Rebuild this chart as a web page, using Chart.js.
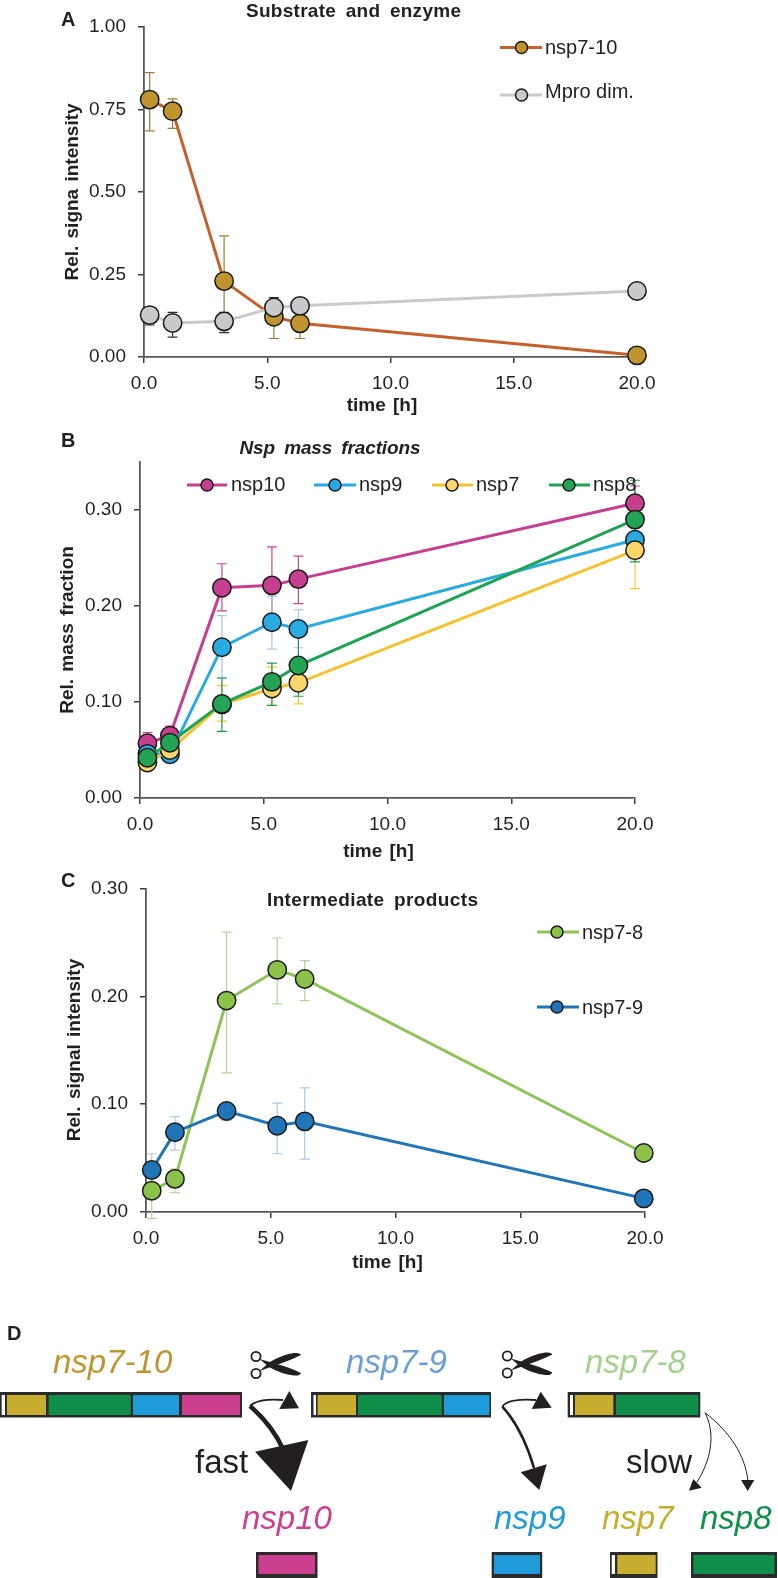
<!DOCTYPE html>
<html>
<head>
<meta charset="utf-8">
<title>nsp processing</title>
<script src="https://cdn.jsdelivr.net/npm/chart.js@4"></script>
<style>
  html, body { margin: 0; padding: 0; background: #fff; }
  #page { position: relative; width: 778px; height: 1578px; overflow: hidden; }
  canvas { position: absolute; left: 0; }
  #overlay { position: absolute; left: 0; top: 0; pointer-events: none; font-family: "Liberation Sans", Arial, sans-serif; fill: #231f20; }
  .tick-like { font-size: 20px; }
  .letter { font-size: 20px; font-weight: bold; }
  .title { font-size: 19px; font-weight: bold; text-anchor: middle; word-spacing: 4px; }
  .axis { font-size: 19px; font-weight: bold; text-anchor: middle; word-spacing: 2px; }
  .big { font-size: 33px; font-style: italic; }
  .word { font-size: 33px; }
</style>
</head>
<body>
<div id="page">
  <canvas id="chartA" width="778" height="420" style="top:0"></canvas>
  <canvas id="chartB" width="778" height="445" style="top:420px"></canvas>
  <canvas id="chartC" width="778" height="420" style="top:865px"></canvas>

  <svg id="overlay" width="778" height="1578" xmlns="http://www.w3.org/2000/svg">
    <defs>
      <g id="scissors">
        <circle cx="256" cy="1356.5" r="4.6" fill="none" stroke="#231f20" stroke-width="1.8"/>
        <circle cx="256" cy="1373.5" r="4.6" fill="none" stroke="#231f20" stroke-width="1.8"/>
        <path d="M259.5,1359 L275,1363.5 Q290,1367.5 301,1373 Q300,1376 294,1375.5 Q281,1374 269,1367 Z" fill="#231f20"/>
        <path d="M259.5,1371 L275,1365.5 Q290,1360.5 301,1355 Q300,1352.5 294,1353 Q281,1355 269,1362.5 Z" fill="#231f20"/>
      </g>
    </defs>

    <!-- panel letters and titles -->
    <text class="letter" x="61" y="26">A</text>
    <text class="letter" x="61" y="447">B</text>
    <text class="letter" x="61" y="887">C</text>
    <text class="letter" x="7" y="1340">D</text>
    <text class="title" x="353.5" y="17" textLength="215">Substrate and enzyme</text>
    <text class="title" x="330" y="454" font-style="italic" textLength="181">Nsp mass fractions</text>
    <text class="title" x="372.5" y="906" textLength="211">Intermediate products</text>

    <!-- axis titles -->
    <text class="axis" x="382" y="411">time [h]</text>
    <text class="axis" x="378.5" y="857">time [h]</text>
    <text class="axis" x="387.5" y="1268">time [h]</text>
    <text class="axis" transform="translate(78,192) rotate(-90)">Rel. signa intensity</text>
    <text class="axis" transform="translate(73,630) rotate(-90)">Rel. mass fraction</text>
    <text class="axis" transform="translate(80,1050) rotate(-90)">Rel. signal intensity</text>

    <!-- legends -->
    <g stroke-width="3">
      <line x1="500" x2="542" y1="47.5" y2="47.5" stroke="#c4602c"/>
      <line x1="500" x2="542" y1="95" y2="95" stroke="#c9caca"/>
      <line x1="187" x2="227" y1="485" y2="485" stroke="#c63f8e"/>
      <line x1="314" x2="356" y1="485" y2="485" stroke="#29abe2"/>
      <line x1="432" x2="473" y1="485" y2="485" stroke="#f5c22e"/>
      <line x1="549" x2="590" y1="485" y2="485" stroke="#1fa354"/>
      <line x1="537" x2="579" y1="932" y2="932" stroke="#8fc25a"/>
      <line x1="537" x2="579" y1="1007" y2="1007" stroke="#1f75b8"/>
    </g>
    <g stroke="#1a1a1a" stroke-width="1.5">
      <circle cx="521.5" cy="47.5" r="6" fill="#c0952f"/>
      <circle cx="521.5" cy="95" r="6" fill="#c8c9cb"/>
      <circle cx="207" cy="485" r="6" fill="#c63f8e"/>
      <circle cx="335" cy="485" r="6" fill="#29abe2"/>
      <circle cx="452" cy="485" r="6" fill="#fdd66a"/>
      <circle cx="569" cy="485" r="6" fill="#23a455"/>
      <circle cx="557" cy="932" r="6" fill="#8bc34a"/>
      <circle cx="557" cy="1007" r="6" fill="#1f75b8"/>
    </g>
    <text class="tick-like" x="545" y="54">nsp7-10</text>
    <text class="tick-like" x="545" y="98">Mpro dim.</text>
    <text class="tick-like" x="231" y="491">nsp10</text>
    <text class="tick-like" x="359" y="491">nsp9</text>
    <text class="tick-like" x="476" y="491">nsp7</text>
    <text class="tick-like" x="593" y="491">nsp8</text>
    <text class="tick-like" x="582" y="939">nsp7-8</text>
    <text class="tick-like" x="582" y="1014">nsp7-9</text>

    <!-- panel D labels -->
    <text class="big" x="53" y="1373" fill="#c0952f">nsp7-10</text>
    <text class="big" x="346" y="1373" fill="#6a9fd5">nsp7-9</text>
    <text class="big" x="585" y="1373" fill="#a3d08f">nsp7-8</text>
    <text class="big" x="242" y="1529" fill="#cc3f8f">nsp10</text>
    <text class="big" x="494" y="1529" fill="#1f9bd7">nsp9</text>
    <text class="big" x="602" y="1529" fill="#c4ae2c">nsp7</text>
    <text class="big" x="700" y="1529" fill="#0f8f4a">nsp8</text>
    <text class="word" x="195" y="1473">fast</text>
    <text class="word" x="626" y="1473">slow</text>

    <!-- long precursor bars -->
    <rect x="0" y="1392" width="242" height="25.5" fill="#2b2b2b"/>
    <rect x="1.7" y="1395" width="3.3" height="20" fill="#fff"/>
    <rect x="7" y="1395" width="39" height="20" fill="#c7ae2e"/>
    <rect x="48.7" y="1395" width="82" height="20" fill="#0f8f4a"/>
    <rect x="133" y="1395" width="46" height="20" fill="#1f9bd9"/>
    <rect x="182" y="1395" width="58" height="20" fill="#cc3f8f"/>

    <rect x="311" y="1392" width="180" height="25.5" fill="#2b2b2b"/>
    <rect x="313.5" y="1395" width="2.5" height="20" fill="#fff"/>
    <rect x="317.6" y="1395" width="38.4" height="20" fill="#c7ae2e"/>
    <rect x="358" y="1395" width="83.7" height="20" fill="#0f8f4a"/>
    <rect x="444" y="1395" width="45.5" height="20" fill="#1f9bd9"/>

    <rect x="567.7" y="1392" width="132.6" height="25.5" fill="#2b2b2b"/>
    <rect x="570" y="1395" width="3" height="20" fill="#fff"/>
    <rect x="575" y="1395" width="38.3" height="20" fill="#c7ae2e"/>
    <rect x="616" y="1395" width="82.3" height="20" fill="#0f8f4a"/>

    <!-- product boxes -->
    <rect x="256" y="1552" width="61.5" height="26" fill="#2b2b2b"/>
    <rect x="258.5" y="1555" width="56.5" height="19" fill="#cc3f8f"/>
    <rect x="491.7" y="1552" width="50.5" height="26" fill="#2b2b2b"/>
    <rect x="494" y="1555" width="46" height="19" fill="#1f9bd9"/>
    <rect x="610" y="1552" width="47.5" height="26" fill="#2b2b2b"/>
    <rect x="611.7" y="1555" width="3.3" height="19" fill="#fff"/>
    <rect x="617.3" y="1555" width="38.4" height="19" fill="#c7ae2e"/>
    <rect x="691" y="1552" width="86" height="26" fill="#2b2b2b"/>
    <rect x="693.5" y="1555" width="81" height="19" fill="#0f8f4a"/>

    <!-- scissors and arrows -->
    <use href="#scissors"/>
    <use href="#scissors" x="251.3" y="-0.5"/>

    <g fill="none" stroke="#231f20">
      <path d="M250,1406 Q258,1398 283,1400" stroke-width="1.8"/>
      <path d="M250,1406 Q272,1425 283,1449" stroke-width="4.6"/>
      <path d="M502.3,1406.7 Q508,1398 536,1400" stroke-width="1.8"/>
      <path d="M502.3,1406.7 Q522,1428 534,1468" stroke-width="2.6"/>
      <path d="M705,1412.7 C714,1430 714,1455 697,1482" stroke-width="1"/>
      <path d="M705,1412.7 C730,1432 745,1455 748,1481" stroke-width="1"/>
    </g>
    <g fill="#231f20">
      <polygon points="289.3,1391 299,1408.3 279.3,1409"/>
      <polygon points="308.3,1440 291,1491 255,1451.7"/>
      <polygon points="540.7,1391.7 551.7,1407.7 531.7,1409"/>
      <polygon points="546.7,1464.3 539.3,1490 520.7,1472.3"/>
      <polygon points="693.3,1479 701.7,1487.7 689,1490.7"/>
      <polygon points="741,1480 754.3,1480 747.7,1491"/>
    </g>
  </svg>
</div>

<script>
// Panel A
const timeA = [0.23, 1.16, 3.25, 5.27, 6.33, 20];
const nsp710 = [0.78, 0.745, 0.23, 0.122, 0.102, 0.005];
const nsp710Hi = [0.862, 0.782, 0.367, 0.18, 0.14, null];
const nsp710Lo = [0.685, 0.693, 0.1, 0.056, 0.056, null];
const mpro = [0.127, 0.103, 0.108, 0.15, 0.155, 0.2];
const mproHi = [0.15, 0.135, 0.135, 0.18, 0.18, null];
const mproLo = [0.097, 0.06, 0.074, 0.12, 0.13, null];

// Panel B
const timeB = [0.3, 1.21, 3.31, 5.33, 6.4, 20];
const nsp10 = [0.057, 0.065, 0.219, 0.2215, 0.228, 0.307];
const nsp10Hi = [0.068, 0.075, 0.244, 0.2615, 0.252, 0.325];
const nsp10Lo = [0.046, 0.055, 0.195, 0.182, 0.2025, 0.29];
const nsp9 = [0.046, 0.0455, 0.157, 0.183, 0.176, 0.269];
const nsp9Hi = [0.055, 0.055, 0.19, 0.21, 0.196, 0.29];
const nsp9Lo = [0.037, 0.036, 0.125, 0.155, 0.1565, 0.25];
const nsp7 = [0.037, 0.05, 0.0975, 0.114, 0.12, 0.258];
const nsp7Hi = [0.045, 0.06, 0.117, 0.1365, 0.142, 0.295];
const nsp7Lo = [0.029, 0.04, 0.08, 0.0965, 0.098, 0.218];
const nsp8 = [0.042, 0.0575, 0.098, 0.121, 0.138, 0.29];
const nsp8Hi = [0.05, 0.067, 0.125, 0.1405, 0.168, 0.331];
const nsp8Lo = [0.034, 0.048, 0.0695, 0.0965, 0.106, 0.246];

// Panel C
const timeC = [0.23, 1.16, 3.23, 5.26, 6.36, 19.95];
const nsp78 = [0.0197, 0.0307, 0.196, 0.2245, 0.216, 0.0547];
const nsp78Hi = [0.045, 0.04, 0.2595, 0.254, 0.233, null];
const nsp78Lo = [-0.006, 0.018, 0.129, 0.193, 0.196, null];
const nsp79 = [0.039, 0.074, 0.0936, 0.08, 0.084, 0.0126];
const nsp79Hi = [0.054, 0.0884, 0.1, 0.101, 0.115, null];
const nsp79Lo = [0.024, 0.0574, 0.085, 0.054, 0.049, null];

const xTicks = [0, 5, 10, 15, 20];

const errorBars = {
    id: 'errorBars',
    beforeDatasetsDraw(chart) {
        const { ctx, scales } = chart;
        ctx.save();
        ctx.lineWidth = 1.2;
        // last dataset first, same stacking as the lines
        chart.data.datasets.slice().reverse().forEach(ds => {
            ctx.strokeStyle = ds.errColor;
            ds.data.forEach((p, i) => {
                if (ds.errHi[i] === null) return;
                const x = scales.x.getPixelForValue(p.x);
                const top = scales.y.getPixelForValue(ds.errHi[i]);
                const bottom = scales.y.getPixelForValue(ds.errLo[i]);
                ctx.beginPath();
                ctx.moveTo(x, top);
                ctx.lineTo(x, bottom);
                ctx.moveTo(x - 5, top);
                ctx.lineTo(x + 5, top);
                ctx.moveTo(x - 5, bottom);
                ctx.lineTo(x + 5, bottom);
                ctx.stroke();
            });
        });
        ctx.restore();
    }
};

function series(label, xs, ys, hi, lo, line, fill, errColor) {
    return {
        label,
        data: ys.map((y, i) => ({ x: xs[i], y })),
        errHi: hi,
        errLo: lo,
        errColor,
        borderColor: line,
        backgroundColor: fill,
        borderWidth: 3,
        pointRadius: 9.2,
        pointBackgroundColor: fill,
        pointBorderColor: '#1a1a1a',
        pointBorderWidth: 1.5,
        tension: 0,
        clip: false
    };
}

function makeChart(id, datasets, box, yMax, yStep) {
    return new Chart(document.getElementById(id), {
        type: 'line',
        data: { datasets },
        plugins: [errorBars],
        options: {
            responsive: false,
            animation: false,
            events: [],
            layout: { padding: { top: box.top, right: box.right, left: 0, bottom: 0 } },
            plugins: { legend: { display: false }, title: { display: false }, tooltip: { enabled: false } },
            scales: {
                x: {
                    type: 'linear',
                    min: 0,
                    max: 20,
                    afterBuildTicks: scale => { scale.ticks = xTicks.map(value => ({ value })); },
                    afterFit: scale => { scale.height = box.bottom; },
                    grid: { drawOnChartArea: false, color: '#3c3c3c', tickLength: 6, lineWidth: 1.5 },
                    border: { color: '#55595e', width: 1.8 },
                    ticks: {
                        maxRotation: 0,
                        padding: 9,
                        color: '#231f20',
                        font: { family: '"Liberation Sans", Arial, sans-serif', size: 19 },
                        callback: v => v.toFixed(1)
                    }
                },
                y: {
                    min: 0,
                    max: yMax,
                    afterFit: scale => { scale.width = box.left; },
                    grid: { drawOnChartArea: false, color: '#3c3c3c', tickLength: 6, lineWidth: 1.5 },
                    border: { color: '#55595e', width: 1.8 },
                    ticks: {
                        stepSize: yStep,
                        includeBounds: false,
                        padding: 12,
                        color: '#231f20',
                        font: { family: '"Liberation Sans", Arial, sans-serif', size: 19 },
                        callback: v => v.toFixed(2)
                    }
                }
            }
        }
    });
}

makeChart('chartA', [
    series('Mpro dim.', timeA, mpro, mproHi, mproLo, '#c9caca', '#c8c9cb', '#2f2f2f'),
    series('nsp7-10', timeA, nsp710, nsp710Hi, nsp710Lo, '#c4602c', '#c0952f', '#9a7d3a')
], { left: 144, right: 141, top: 27, bottom: 63 }, 1, 0.25);

makeChart('chartB', [
    series('nsp8', timeB, nsp8, nsp8Hi, nsp8Lo, '#1fa354', '#23a455', '#1f9a4f'),
    series('nsp7', timeB, nsp7, nsp7Hi, nsp7Lo, '#f5c22e', '#fdd66a', '#f5c533'),
    series('nsp9', timeB, nsp9, nsp9Hi, nsp9Lo, '#29abe2', '#29abe2', '#a9c8e6'),
    series('nsp10', timeB, nsp10, nsp10Hi, nsp10Lo, '#c63f8e', '#c63f8e', '#c8478f')
], { left: 140, right: 143, top: 42, bottom: 67 }, 0.35, 0.1);

makeChart('chartC', [
    series('nsp7-9', timeC, nsp79, nsp79Hi, nsp79Lo, '#1f75b8', '#1f75b8', '#a8cbe6'),
    series('nsp7-8', timeC, nsp78, nsp78Hi, nsp78Lo, '#8fc25a', '#8bc34a', '#b5d69a')
], { left: 146, right: 133, top: 22, bottom: 73 }, 0.3, 0.1);
</script>
</body>
</html>
